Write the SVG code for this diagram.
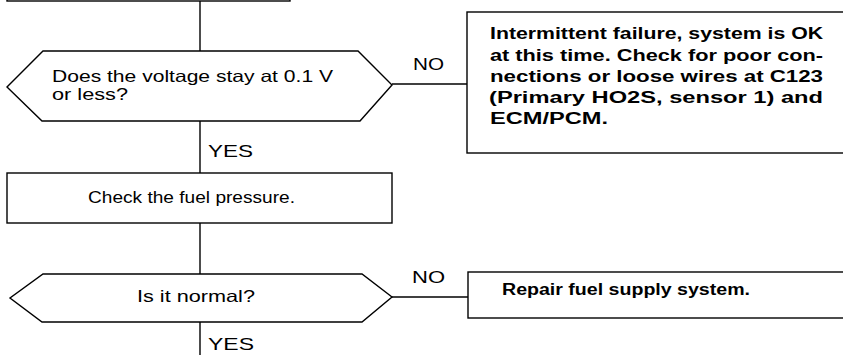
<svg xmlns="http://www.w3.org/2000/svg" width="843" height="355" viewBox="0 0 843 355">
<style>
.shape{fill:#fff;stroke:#000;stroke-width:1.4}
.line{fill:none;stroke:#000;stroke-width:1.4}
.t{font-family:"Liberation Sans",Arial,sans-serif;font-size:16.5px;fill:#000}
.b{font-family:"Liberation Sans",Arial,sans-serif;font-size:16px;font-weight:bold;fill:#000}
</style>
<rect width="843" height="355" fill="#fff"/>
<g id="connectors">
<line class="line" x1="200" y1="0" x2="200" y2="51"/>
<line class="line" x1="200" y1="121" x2="200" y2="173"/>
<line class="line" x1="200" y1="223" x2="200" y2="274"/>
<line class="line" x1="200" y1="322" x2="200" y2="355"/>
<line class="line" x1="392" y1="84" x2="467" y2="84"/>
<line class="line" x1="392" y1="297" x2="468" y2="297"/>
<text class="t" x="413" y="70" textLength="31" lengthAdjust="spacingAndGlyphs">NO</text>
<text class="t" x="412" y="283" textLength="33" lengthAdjust="spacingAndGlyphs">NO</text>
<text class="t" x="208" y="157" textLength="45" lengthAdjust="spacingAndGlyphs">YES</text>
<text class="t" x="208" y="350" textLength="46" lengthAdjust="spacingAndGlyphs">YES</text>
</g>
<g id="top-box">
<rect class="shape" x="7" y="-30" width="283" height="31"/>
</g>
<g id="decision-voltage">
<polygon class="shape" points="43,51 358,51 392,85 360,121 42,121 7,87"/>
<text class="t" x="52" y="82" textLength="281" lengthAdjust="spacingAndGlyphs">Does the voltage stay at 0.1 V</text>
<text class="t" x="52" y="100" textLength="76" lengthAdjust="spacingAndGlyphs">or less?</text>
</g>
<g id="intermittent-box">
<rect class="shape" x="467" y="12" width="400" height="141"/>
<text class="b" x="490" y="39" textLength="333" lengthAdjust="spacingAndGlyphs">Intermittent failure, system is OK</text>
<text class="b" x="490" y="60.5" textLength="333" lengthAdjust="spacingAndGlyphs">at this time. Check for poor con-</text>
<text class="b" x="490" y="82" textLength="333" lengthAdjust="spacingAndGlyphs">nections or loose wires at C123</text>
<text class="b" x="489" y="103" textLength="334" lengthAdjust="spacingAndGlyphs">(Primary HO2S, sensor 1) and</text>
<text class="b" x="490" y="124" textLength="118" lengthAdjust="spacingAndGlyphs">ECM/PCM.</text>
</g>
<g id="check-fuel-box">
<rect class="shape" x="7" y="173" width="385" height="50"/>
<text class="t" x="88" y="203" textLength="207" lengthAdjust="spacingAndGlyphs">Check the fuel pressure.</text>
</g>
<g id="decision-normal">
<polygon class="shape" points="43,274 362,274 392,297 362,322 42,322 10,298"/>
<text class="t" x="137" y="302" textLength="118" lengthAdjust="spacingAndGlyphs">Is it normal?</text>
</g>
<g id="repair-box">
<rect class="shape" x="468" y="272" width="400" height="46"/>
<text class="b" x="502" y="295" textLength="248" lengthAdjust="spacingAndGlyphs">Repair fuel supply system.</text>
</g>
</svg>
